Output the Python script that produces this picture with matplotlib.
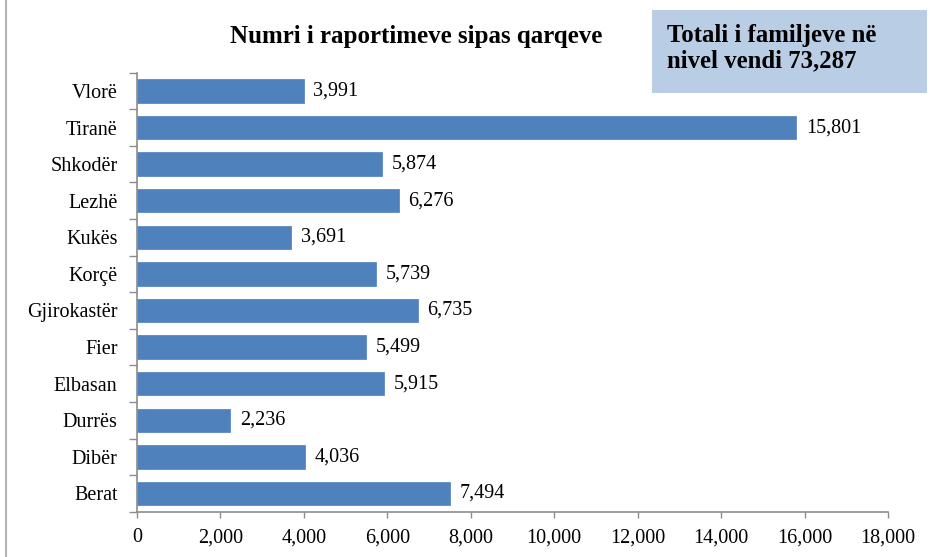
import matplotlib
matplotlib.use("Agg")
import matplotlib.pyplot as plt
from matplotlib.ticker import FuncFormatter, FixedLocator

categories = ["Berat", "Dibër", "Durrës", "Elbasan", "Fier", "Gjirokastër",
              "Korçë", "Kukës", "Lezhë", "Shkodër", "Tiranë", "Vlorë"]
values = [7494, 4036, 2236, 5915, 5499, 6735, 5739, 3691, 6276, 5874, 15801, 3991]
xticks = [0, 2000, 4000, 6000, 8000, 10000, 12000, 14000, 16000, 18000]
title = "Numri i raportimeve sipas qarqeve"
box_line1 = "Totali i familjeve në"
box_line2 = "nivel vendi 73,287"

plt.rcParams['font.family'] = ['Liberation Serif', 'DejaVu Serif']

W, H = 930, 557
fig = plt.figure(figsize=(9.3, 5.57), dpi=100)
ax = fig.add_axes([137 / W, 1 - 511.7 / H, (888 - 137) / W, (511.7 - 72.7) / H])

ypos = list(range(len(categories)))
ax.barh(ypos, values, height=0.64, color="#4f81bd", edgecolor="#5a8ac4", linewidth=0.6)
for y, v in zip(ypos, values):
    ax.text(v + 230, y, f"{v:,}", va="center", ha="left", fontsize=14.5)

ax.set_ylim(-0.5, len(categories) - 0.5)
ax.set_xlim(0, 18000)
ax.set_yticks(ypos)
ax.set_yticklabels(categories, fontsize=14.5)
ax.yaxis.set_minor_locator(FixedLocator([i - 0.5 for i in range(len(categories) + 1)]))
ax.tick_params(axis="y", which="major", length=0, pad=14)
ax.tick_params(axis="y", which="minor", length=6, width=1, color="#8c8c8c")
ax.set_xticks(xticks)
ax.xaxis.set_major_formatter(FuncFormatter(lambda x, p: f"{int(x):,}"))
ax.tick_params(axis="x", labelsize=14.5, length=4, width=1, color="#8c8c8c", pad=8)

for s in ["top", "right"]:
    ax.spines[s].set_visible(False)
for s in ["left", "bottom"]:
    ax.spines[s].set_color("#8c8c8c")
    ax.spines[s].set_linewidth(1.2)

fig.text(416 / W, 1 - 42.7 / H, title, ha="center", va="baseline",
         fontsize=18, fontweight="bold")

fig.patches.append(plt.Rectangle((652 / W, 1 - 93 / H), (927 - 652) / W, 83 / H,
                                 transform=fig.transFigure, facecolor="#b9cde5",
                                 edgecolor="none", zorder=0))
fig.text(667 / W, 1 - 42 / H, box_line1, ha="left", va="baseline", fontsize=17.8,
         fontweight="bold")
fig.text(667 / W, 1 - 67 / H, box_line2, ha="left", va="baseline", fontsize=17.8,
         fontweight="bold")

fig.add_artist(plt.Line2D([6 / W, 6 / W], [0, 1], transform=fig.transFigure,
                          color="#b4b4b4", linewidth=1.5))

fig.savefig("out.png", dpi=100)
